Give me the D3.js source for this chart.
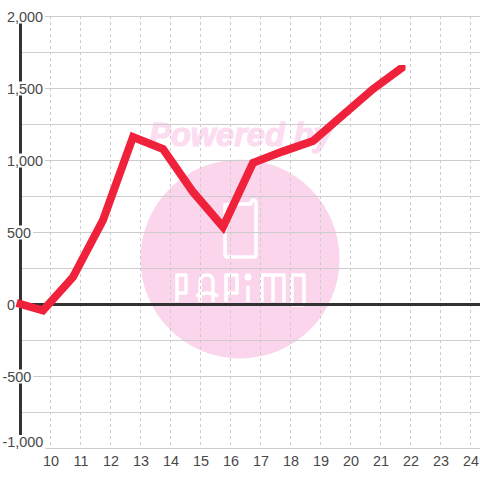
<!DOCTYPE html>
<html>
<head>
<meta charset="utf-8">
<script src="https://cdn.jsdelivr.net/npm/d3@7"></script>
<style>
  html, body { margin: 0; padding: 0; background: #fff; }
  svg { display: block; }
  text { font-family: "Liberation Sans", sans-serif; font-size: 14.4px; fill: #484848; }
</style>
</head>
<body>
<svg id="chart" width="480" height="480"></svg>
<script>
var hours = [9, 9.75, 10.75, 11.75, 12.75, 13.75, 14.75, 15.75, 16.75, 17.75, 18.75, 19.75, 20.75, 21.75];
var values = [0, -45, 187, 583, 1160, 1076, 778, 535, 980, 1060, 1132, 1312, 1493, 1646];
var xTicks = [10, 11, 12, 13, 14, 15, 16, 17, 18, 19, 20, 21, 22, 23, 24];
var yLabels = [2000, 1500, 1000, 500, 0, -500, -1000];
var yGrid = [2000, 1750, 1500, 1250, 1000, 750, 500, 250, -250, -500, -750, -1000];

var svg = d3.select('#chart');
var x = d3.scaleLinear().domain([10, 24]).range([50.5, 470.5]);
var y = d3.scaleLinear().domain([-1000, 2000]).range([448, 16]);
var fmt = d3.format(',');

// watermark
var wm = svg.append('g');
wm.append('circle').attr('cx', 240).attr('cy', 259).attr('r', 99.5).attr('fill', '#fbd5ec');
wm.append('text')
    .attr('x', 240.5).attr('y', 146).attr('text-anchor', 'middle')
    .style('font-size', '32.5px').style('font-weight', 'bold').style('font-style', 'italic')
    .style('fill', '#fcdcf0').style('stroke', '#fcdcf0').style('stroke-width', 1.2)
    .text('Powered by');
var logo = [
  'M225 203 V254 Q225 257 228 257 H254 Q256 257 256 254 V203 Q256 200 253 200 Q251 200 251 204 H230 Q227 204 225 207',
  'M177 302 V275 H186 V293 H177',
  'M200 302 V282 Q200 275 207 275 Q213 275 213 282 V302 M196 296 Q207 290 218 296',
  'M226 302 V275 H237 V293 H226',
  'M248 286 V302',
  'M262 302 V275 H284 V302 M273 275 V302',
  'M292 275 H304 V305 H292 Z'
];
wm.selectAll('path').data(logo).enter().append('path')
    .attr('d', function(d) { return d; })
    .attr('fill', 'none').attr('stroke', '#fff').attr('stroke-width', 3.5)
    .attr('stroke-linejoin', 'round');
wm.append('circle').attr('cx', 248).attr('cy', 277).attr('r', 3.5).attr('fill', '#fff');

// grid
svg.append('g').selectAll('line').data(xTicks).enter().append('line')
    .attr('x1', function(d) { return x(d); })
    .attr('x2', function(d) { return x(d); })
    .attr('y1', y(2000)).attr('y2', y(-1000))
    .attr('stroke', '#ccc').attr('stroke-dasharray', '3,3');
svg.append('g').selectAll('line').data(yGrid).enter().append('line')
    .attr('x1', 20).attr('x2', 480)
    .attr('y1', function(d) { return y(d) + 0.5; })
    .attr('y2', function(d) { return y(d) + 0.5; })
    .attr('stroke', '#ccc');

// axes
svg.append('line').attr('x1', 20.5).attr('x2', 20.5).attr('y1', y(2000)).attr('y2', y(-1000))
    .attr('stroke', '#333').attr('stroke-width', 3);
svg.append('line').attr('x1', 20).attr('x2', 480).attr('y1', y(0) + 0.5).attr('y2', y(0) + 0.5)
    .attr('stroke', '#333').attr('stroke-width', 3);

// y labels sit on a white box that cuts the axis and grid
var yl = svg.append('g').selectAll('g').data(yLabels).enter().append('g');
yl.append('text')
    .attr('x', function(d) { return d < 0 ? 2.5 : 7; })
    .attr('y', function(d) { return d === -1000 ? y(d) - 1 : y(d) + 5.5; })
    .text(function(d) { return fmt(d).replace('\u2212', '-'); })
    .each(function(d) {
      var b = this.getBBox();
      var base = +d3.select(this).attr('y');
      d3.select(this.parentNode).insert('rect', 'text')
          .attr('x', b.x - 2).attr('y', base - 12)
          .attr('width', b.width + 4).attr('height', 14)
          .attr('fill', '#fff');
    });

svg.append('g').selectAll('text').data(xTicks).enter().append('text')
    .attr('x', function(d) { return x(d) + 0.5; })
    .attr('y', 466)
    .attr('text-anchor', 'middle')
    .text(function(d) { return d; });

// line, cut flat at its top right end
svg.append('clipPath').attr('id', 'line-clip').append('rect')
    .attr('x', 0).attr('y', 65).attr('width', 405.5).attr('height', 415);
var line = d3.line()
    .x(function(d, i) { return x(hours[i]); })
    .y(function(d) { return y(d); });
svg.append('path').datum(values)
    .attr('d', line)
    .attr('clip-path', 'url(#line-clip)')
    .attr('fill', 'none').attr('stroke', '#f0213a').attr('stroke-width', 8)
    .attr('stroke-linejoin', 'miter').attr('stroke-linecap', 'square');
</script>
</body>
</html>
